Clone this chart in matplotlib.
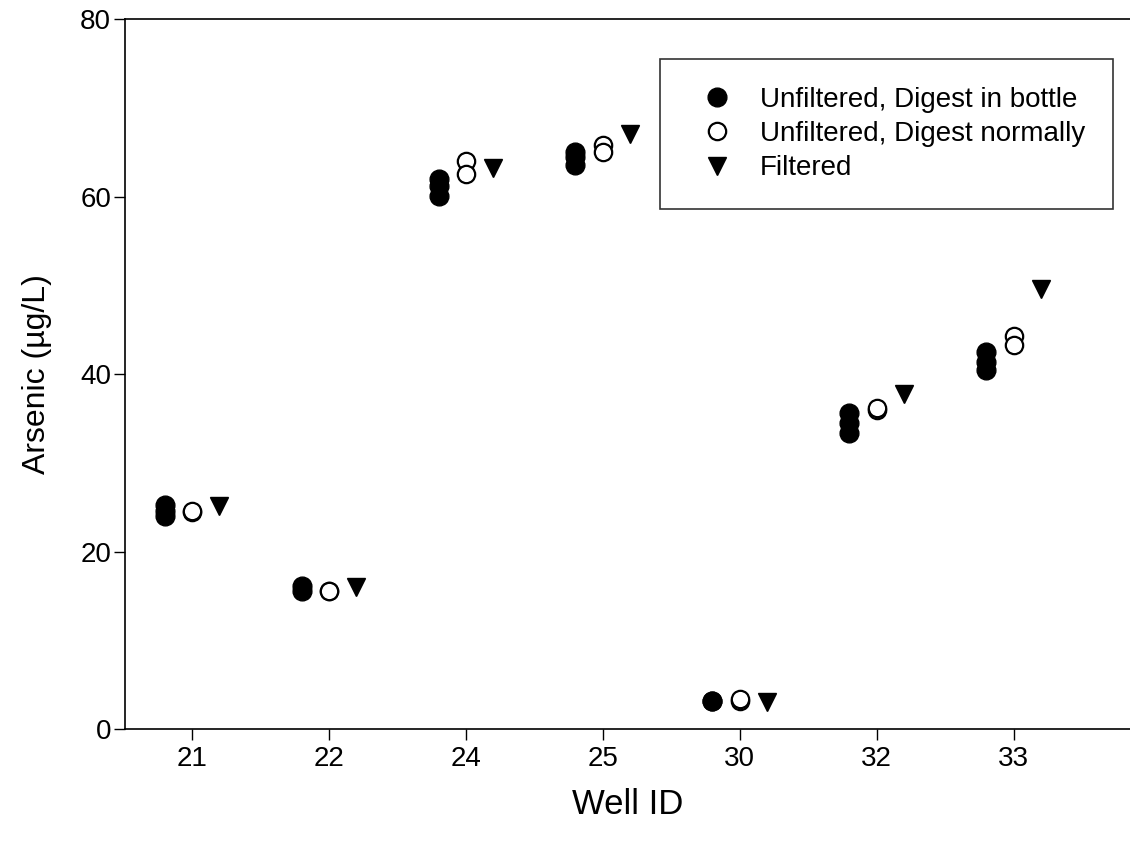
import numpy as np
import matplotlib
matplotlib.use('Agg')
import matplotlib.pyplot as plt

plt.rcParams['font.family'] = ['Liberation Sans', 'DejaVu Sans']

wells = ['21', '22', '24', '25', '30', '32', '33']

digest_bottle = [
    [25.2, 24.6, 24.0],
    [16.1, 15.5],
    [62.0, 61.2, 60.1],
    [65.0, 64.5, 63.6],
    [3.2, 3.1],
    [35.6, 34.5, 33.4],
    [42.5, 41.3, 40.4],
]
digest_normal = [
    [24.4, 24.6],
    [15.5, 15.6],
    [64.0, 62.5],
    [65.8, 65.05],
    [3.2, 3.4],
    [36.0, 36.2],
    [44.3, 43.3],
]
filtered = [25.1, 16.0, 63.2, 67.0, 3.05, 37.7, 49.6]

fig = plt.figure(figsize=(11.3, 8.46), dpi=100)
ax = fig.add_axes([0.1106, 0.1383, 0.8894, 0.8392])

first = True
for i, vals in enumerate(digest_bottle):
    ax.plot([i - 0.2] * len(vals), vals, 'o', color='black', markersize=13.5,
            linestyle='none', label='Unfiltered, Digest in bottle' if first else None)
    first = False
first = True
for i, vals in enumerate(digest_normal):
    ax.plot([i] * len(vals), vals, 'o', markerfacecolor='white', markeredgecolor='black',
            markeredgewidth=1.6, markersize=12.5, linestyle='none',
            label='Unfiltered, Digest normally' if first else None)
    first = False
ax.plot(np.arange(len(wells)) + 0.2, filtered, 'v', color='black', markersize=13,
        linestyle='none', label='Filtered')

ax.set_xlim(-0.49, 6.85)
ax.set_ylim(0, 80)
ax.set_xticks(range(len(wells)))
ax.set_xticklabels(wells)
ax.set_yticks([0, 20, 40, 60, 80])
ax.tick_params(direction='out', length=8, width=1, labelsize=20)
ax.tick_params(axis='x', pad=4)
ax.tick_params(axis='y', pad=2)
ax.spines['right'].set_visible(False)
for s in ['left', 'bottom', 'top']:
    ax.spines[s].set_linewidth(1.2)

ax.set_xlabel('Well ID', fontsize=25, labelpad=12)
ax.set_ylabel('Arsenic (\u00b5g/L)', fontsize=23, labelpad=20)

leg = ax.legend(loc='upper right', bbox_to_anchor=(0.983, 0.944), borderaxespad=0,
                fontsize=20, frameon=True, fancybox=False, edgecolor='black',
                handletextpad=0.5, labelspacing=0.3, borderpad=1.0, handlelength=2.1,
                markerscale=1.0)
leg.get_frame().set_linewidth(1.2)

fig.savefig('out.png', dpi=100)
